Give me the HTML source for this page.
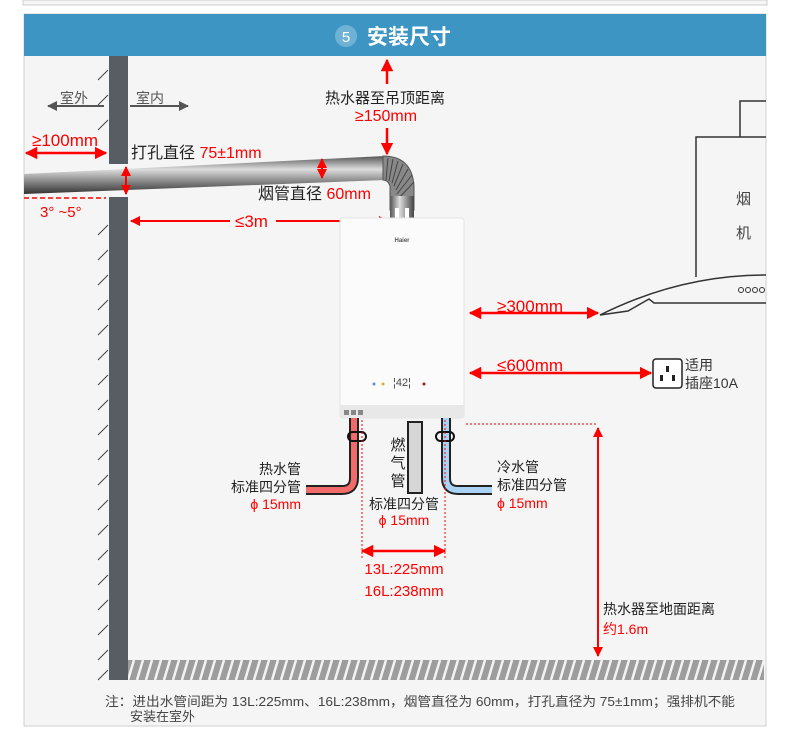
<!DOCTYPE html>
<html><head><meta charset="utf-8"><style>
html,body{margin:0;padding:0;background:#fff;}
svg{display:block;}
text{font-family:"Liberation Sans","Noto Sans CJK SC",sans-serif;}
</style></head><body>
<svg width="790" height="740" viewBox="0 0 790 740" xmlns="http://www.w3.org/2000/svg">
<defs>
<marker id="ar" viewBox="0 0 10 10" refX="9" refY="5" markerWidth="5" markerHeight="5" orient="auto-start-reverse"><path d="M0,0L10,5L0,10z" fill="#f00"/></marker>
<marker id="ag" viewBox="0 0 10 10" refX="9" refY="5" markerWidth="5" markerHeight="5" orient="auto-start-reverse"><path d="M0,0L10,5L0,10z" fill="#555"/></marker>
<linearGradient id="pipe" x1="0" y1="0" x2="0" y2="1"><stop offset="0" stop-color="#555"/><stop offset="0.35" stop-color="#ddd"/><stop offset="0.6" stop-color="#999"/><stop offset="1" stop-color="#333"/></linearGradient>
<linearGradient id="vp" x1="0" y1="0" x2="1" y2="0"><stop offset="0" stop-color="#555"/><stop offset="0.4" stop-color="#ddd"/><stop offset="1" stop-color="#444"/></linearGradient>
<pattern id="hatch" width="9" height="20" patternUnits="userSpaceOnUse"><rect width="9" height="20" fill="#9d9d9d"/><path d="M2,20L8,0" stroke="#f3f3f3" stroke-width="2.5"/></pattern>
</defs>
<rect x="0" y="0" width="790" height="740" fill="#fff"/>
<rect x="23" y="0" width="744" height="5" fill="#f6f6f6" stroke="#ccc"/>
<rect x="24" y="14" width="742" height="712" fill="#f5f5f5" stroke="#d0d0d0"/>
<rect x="24" y="14" width="742" height="42" fill="#3d95c3"/>
<circle cx="346" cy="36" r="11" fill="#6fb2d6"/>
<text x="346" y="42" font-size="15" fill="#fff" text-anchor="middle">5</text>
<text x="367" y="44" font-size="21" font-weight="bold" fill="#fff">安装尺寸</text>

<!-- wall -->
<rect x="109" y="56" width="19" height="108" fill="#575d62"/>
<rect x="109" y="197" width="19" height="483" fill="#575d62"/>
<g stroke="#444" stroke-width="1">
<path d="M98,80L108,70M98,105L108,95M98,130L108,120M98,235L108,225M98,260L108,250M98,285L108,275M98,310L108,300M98,335L108,325M98,360L108,350M98,385L108,375M98,410L108,400M98,435L108,425M98,460L108,450M98,485L108,475M98,510L108,500M98,535L108,525M98,560L108,550M98,585L108,575M98,610L108,600M98,635L108,625M98,660L108,650M98,680L108,670"/>
</g>
<rect x="128" y="660" width="636" height="20" fill="url(#hatch)"/>
<line x1="48" y1="106" x2="104" y2="106" stroke="#555" stroke-width="2" marker-start="url(#ag)"/>
<line x1="130" y1="106" x2="188" y2="106" stroke="#555" stroke-width="2" marker-end="url(#ag)"/>
<text x="60" y="103" font-size="14" fill="#555">室外</text>
<text x="136" y="103" font-size="14" fill="#555">室内</text>

<!-- flue pipe -->
<path d="M24,174 L385,156 L385,180 L24,194 Z" fill="url(#pipe)"/>
<path d="M383,156 Q412,156 414,186 L414,210 L390,210 L390,186 Q388,180 383,180 Z" fill="#888" stroke="#555"/>
<g stroke="#444" stroke-width="1"><path d="M388,158L386,180M393,159L389,181M398,161L392,183M403,164L394,186M408,169L396,190M412,175L397,194M414,182L397,200"/></g>
<rect x="390" y="196" width="24" height="24" fill="url(#vp)"/>
<rect x="395" y="208" width="4" height="12" fill="#fff"/><rect x="405" y="208" width="4" height="12" fill="#fff"/>

<!-- red dims top -->
<line x1="26" y1="153" x2="106" y2="153" stroke="#f00" stroke-width="2.5" marker-start="url(#ar)" marker-end="url(#ar)"/>
<text x="32" y="146" font-size="17" fill="#f00">≥100mm</text>
<line x1="126" y1="167" x2="126" y2="194" stroke="#f00" stroke-width="2" marker-start="url(#ar)" marker-end="url(#ar)"/>
<text x="131" y="158" font-size="16" fill="#222">打孔直径 <tspan fill="#f00">75±1mm</tspan></text>
<line x1="24" y1="198" x2="106" y2="198" stroke="#f00" stroke-width="1.5" stroke-dasharray="5,3"/>
<text x="40" y="217" font-size="15" fill="#f00">3° ~5°</text>
<line x1="322" y1="159" x2="322" y2="178" stroke="#f00" stroke-width="2" marker-start="url(#ar)" marker-end="url(#ar)"/>
<text x="258" y="199" font-size="16" fill="#222">烟管直径 <tspan fill="#f00">60mm</tspan></text>
<line x1="131" y1="221" x2="388" y2="221" stroke="#f00" stroke-width="2" marker-start="url(#ar)" marker-end="url(#ar)"/>
<rect x="230" y="211" width="46" height="20" fill="#f5f5f5"/>
<text x="235" y="227" font-size="17" fill="#f00">≤3m</text>
<line x1="387" y1="60" x2="387" y2="84" stroke="#f00" stroke-width="2.5" marker-start="url(#ar)"/>
<line x1="387" y1="128" x2="387" y2="154" stroke="#f00" stroke-width="2.5" marker-end="url(#ar)"/>
<text x="385" y="103" font-size="15" fill="#222" text-anchor="middle">热水器至吊顶距离</text>
<text x="386" y="121" font-size="16" fill="#f00" text-anchor="middle">≥150mm</text>

<!-- heater -->
<rect x="340" y="218" width="124" height="200" rx="3" fill="#fbfbfb" stroke="#e4e4e4"/>
<rect x="340" y="405" width="124" height="13" fill="#e8e8e8"/>
<text x="402" y="242" font-size="6" fill="#555" text-anchor="middle" font-weight="bold">Haier</text>
<text x="402" y="386" font-size="11" fill="#444" text-anchor="middle">¦42¦</text>
<circle cx="374" cy="384" r="1.5" fill="#5a8fd0"/><circle cx="383" cy="384" r="1.5" fill="#e0b020"/><circle cx="424" cy="384" r="1.5" fill="#902020"/>
<g fill="#888"><rect x="344" y="410" width="5" height="5"/><rect x="351" y="410" width="5" height="5"/><rect x="358" y="410" width="5" height="5"/></g>

<!-- pipes under heater -->
<path d="M354,418 L354,478 Q354,490 342,490 L306,490" fill="none" stroke="#222" stroke-width="10"/>
<path d="M354,418 L354,478 Q354,490 342,490 L306,490" fill="none" stroke="#f26b6b" stroke-width="6"/>
<path d="M446,418 L446,478 Q446,490 458,490 L492,490" fill="none" stroke="#222" stroke-width="10"/>
<path d="M446,418 L446,478 Q446,490 458,490 L492,490" fill="none" stroke="#a9d2f5" stroke-width="6"/>
<rect x="408" y="422" width="14" height="71" fill="#d6d6d6" stroke="#222" stroke-width="2"/>
<rect x="348" y="432" width="18" height="9" rx="4.5" fill="none" stroke="#111" stroke-width="2"/>
<rect x="436" y="432" width="18" height="9" rx="4.5" fill="none" stroke="#111" stroke-width="2"/>
<line x1="362" y1="420" x2="362" y2="560" stroke="#f00" stroke-dasharray="2,2"/>
<line x1="445" y1="420" x2="445" y2="560" stroke="#f00" stroke-dasharray="2,2"/>
<text x="398" y="450" font-size="15" fill="#222" text-anchor="middle">燃</text>
<text x="398" y="468" font-size="15" fill="#222" text-anchor="middle">气</text>
<text x="398" y="486" font-size="15" fill="#222" text-anchor="middle">管</text>
<text x="301" y="474" font-size="14" fill="#222" text-anchor="end">热水管</text>
<text x="301" y="492" font-size="14" fill="#222" text-anchor="end">标准四分管</text>
<text x="301" y="509" font-size="14" fill="#f00" text-anchor="end">ϕ 15mm</text>
<text x="404" y="509" font-size="14" fill="#222" text-anchor="middle">标准四分管</text>
<text x="404" y="525" font-size="14" fill="#f00" text-anchor="middle">ϕ 15mm</text>
<text x="497" y="472" font-size="14" fill="#222">冷水管</text>
<text x="497" y="490" font-size="14" fill="#222">标准四分管</text>
<text x="497" y="508" font-size="14" fill="#f00">ϕ 15mm</text>
<line x1="362" y1="551" x2="445" y2="551" stroke="#f00" stroke-width="2.5" marker-start="url(#ar)" marker-end="url(#ar)"/>
<text x="404" y="574" font-size="15" fill="#f00" text-anchor="middle">13L:225mm</text>
<text x="404" y="596" font-size="15" fill="#f00" text-anchor="middle">16L:238mm</text>

<!-- right dims -->
<line x1="470" y1="313" x2="598" y2="313" stroke="#f00" stroke-width="2.5" marker-start="url(#ar)" marker-end="url(#ar)"/>
<text x="497" y="312" font-size="17" fill="#f00">≥300mm</text>
<line x1="470" y1="373" x2="651" y2="373" stroke="#f00" stroke-width="2.5" marker-start="url(#ar)" marker-end="url(#ar)"/>
<text x="497" y="371" font-size="17" fill="#f00">≤600mm</text>
<rect x="653" y="359" width="29" height="29" rx="3" fill="#fff" stroke="#222" stroke-width="1.5"/>
<rect x="666" y="366" width="3" height="6" fill="#222"/><rect x="660" y="375" width="3" height="6" fill="#222"/><rect x="672" y="375" width="3" height="6" fill="#222"/>
<text x="685" y="370" font-size="14" fill="#333">适用</text>
<text x="685" y="388" font-size="14" fill="#333">插座10A</text>
<line x1="466" y1="424" x2="598" y2="424" stroke="#f00" stroke-dasharray="2,2"/>
<line x1="598" y1="428" x2="598" y2="656" stroke="#f00" stroke-width="2" marker-start="url(#ar)" marker-end="url(#ar)"/>
<text x="603" y="614" font-size="14" fill="#222">热水器至地面距离</text>
<text x="603" y="634" font-size="14" fill="#f00">约1.6m</text>

<!-- hood -->
<g fill="none" stroke="#333" stroke-width="1.5">
<path d="M740,137 L740,101 L766,101"/>
<path d="M696,277 L696,137 L766,137"/>
<path d="M600,315 Q680,275 766,275"/>
<path d="M600,315 L628,311 L649,299 L654,303 L766,303"/>
</g>
<text x="736" y="204" font-size="15" fill="#444">烟</text>
<text x="736" y="238" font-size="15" fill="#444">机</text>
<g fill="none" stroke="#333" stroke-width="1"><circle cx="741" cy="290" r="2.5"/><circle cx="748" cy="290" r="2.5"/><circle cx="755" cy="290" r="2.5"/><circle cx="762" cy="290" r="2.5"/></g>

<text x="105" y="706" font-size="13" fill="#444" textLength="630" lengthAdjust="spacingAndGlyphs">注：进出水管间距为 13L:225mm、16L:238mm，烟管直径为 60mm，打孔直径为 75±1mm；强排机不能</text>
<text x="130" y="721" font-size="13" fill="#444">安装在室外</text>
</svg>
</body></html>
